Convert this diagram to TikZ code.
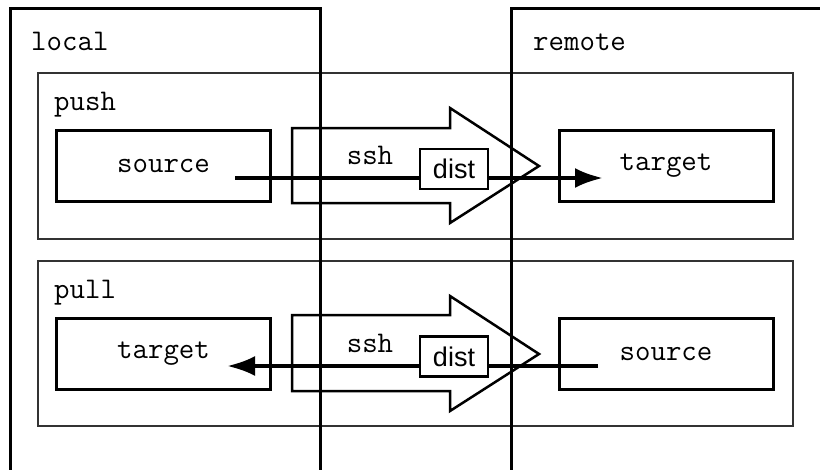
\documentclass[tikz,border=0pt]{standalone}
\usepackage{fontspec}
\newfontfamily\distfont{Liberation Sans}
\usetikzlibrary{arrows.meta,calc}
\tikzset{
  hostbox/.style={draw=black, line width=2.5pt, rectangle, inner sep=0pt},
  modebox/.style={draw=black!80, line width=1.2pt, rectangle, inner sep=0pt, minimum width=755pt, minimum height=166pt},
  endbox/.style={draw=black, line width=3pt, rectangle, inner sep=0pt, minimum width=214pt, minimum height=71pt, font=\ttfamily\fontsize{30}{30}\selectfont},
  lbl/.style={anchor=base west, inner sep=0pt, font=\ttfamily\fontsize{30}{30}\selectfont},
  sshshape/.style={draw=black, line width=2.5pt, line join=miter},
  distbox/.style={draw=black, fill=white, line width=2.5pt, rectangle, inner sep=0pt, minimum width=68pt, minimum height=40pt, font=\distfont\fontsize{27}{27}\selectfont},
  flow/.style={line width=4pt, -{Latex[length=28pt,width=20pt]}}
}
\begin{document}
\begin{tikzpicture}[x=1pt,y=-1pt]
\useasboundingbox (0,0) rectangle (820,469);
% mode boxes
\node[modebox] (push) at (415.5,156) {};
\node[modebox, minimum height=165pt] (pull) at (415.5,343.5) {};
% host boxes (open at the bottom, cut by the page)
\node[hostbox, minimum width=310pt, minimum height=500pt, anchor=north west] (local) at (9,7) {};
\node[hostbox, minimum width=340pt, minimum height=500pt, anchor=north west] (remote) at (510,7) {};
% labels
\node[lbl] (locallbl) at (31,50) {local};
\node[lbl] (remotelbl) at (533,50) {remote};
\node[lbl] (pushlbl) at (54,110) {push};
\node[lbl] (pulllbl) at (54,298) {pull};
% ssh arrows
\draw[sshshape] (292,128) -- (450,128) -- (450,108) -- (539,166) -- (450,223) -- (450,203) -- (292,203) -- cycle;
\draw[sshshape] (292,315) -- (450,315) -- (450,296) -- (539,354) -- (450,411) -- (450,391) -- (292,391) -- cycle;
\node[lbl, anchor=center] (ssh1) at (370,155) {ssh};
\node[lbl, anchor=center] (ssh2) at (370,343) {ssh};
% end boxes
\node[endbox] (src1) at (163.5,165.5) {source};
\node[endbox] (tgt1) at (666,165.5) {target};
\node[endbox] (tgt2) at (163.5,353.5) {target};
\node[endbox] (src2) at (666,353.5) {source};
% connectors
\draw[flow] ([shift={(71.5,12.5)}]src1.center) -- ([shift={(-63,12.5)}]tgt1.center);
\draw[flow] ([shift={(-68,12.5)}]src2.center) -- ([shift={(63.5,12.5)}]tgt2.center);
% dist boxes
\node[distbox] (dist1) at (454,169) {dist};
\node[distbox] (dist2) at (454,356.5) {dist};
\end{tikzpicture}
\end{document}
